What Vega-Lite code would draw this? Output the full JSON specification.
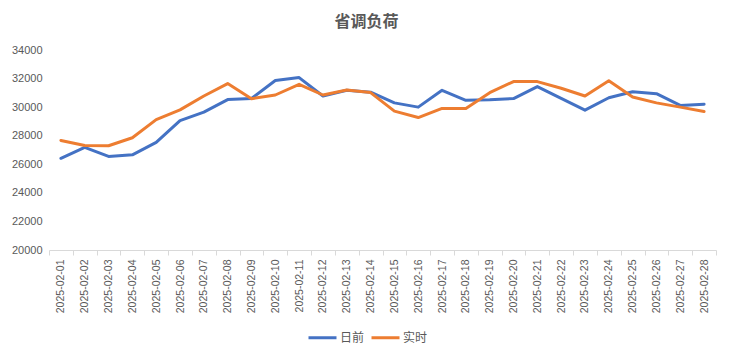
{
  "$schema": "https://vega.github.io/schema/vega-lite/v6.json",
  "autosize": "none",
  "width": 667,
  "height": 200,
  "padding": {"left": 49, "top": 50, "right": 16, "bottom": 106},
  "background": "white",
  "title": {
    "text": "省调负荷",
    "font": "Noto Sans CJK SC",
    "fontSize": 16,
    "fontWeight": "bold",
    "color": "#595959",
    "anchor": "middle",
    "dx": -16,
    "offset": 14
  },
  "datasets": {
    "load": [
      {"date": "2025-02-01", "series": "日前", "value": 26420},
      {"date": "2025-02-02", "series": "日前", "value": 27180},
      {"date": "2025-02-03", "series": "日前", "value": 26550},
      {"date": "2025-02-04", "series": "日前", "value": 26660},
      {"date": "2025-02-05", "series": "日前", "value": 27530},
      {"date": "2025-02-06", "series": "日前", "value": 29060},
      {"date": "2025-02-07", "series": "日前", "value": 29650},
      {"date": "2025-02-08", "series": "日前", "value": 30530},
      {"date": "2025-02-09", "series": "日前", "value": 30610},
      {"date": "2025-02-10", "series": "日前", "value": 31860},
      {"date": "2025-02-11", "series": "日前", "value": 32070},
      {"date": "2025-02-12", "series": "日前", "value": 30780},
      {"date": "2025-02-13", "series": "日前", "value": 31180},
      {"date": "2025-02-14", "series": "日前", "value": 31050},
      {"date": "2025-02-15", "series": "日前", "value": 30300},
      {"date": "2025-02-16", "series": "日前", "value": 30000},
      {"date": "2025-02-17", "series": "日前", "value": 31180},
      {"date": "2025-02-18", "series": "日前", "value": 30480},
      {"date": "2025-02-19", "series": "日前", "value": 30520},
      {"date": "2025-02-20", "series": "日前", "value": 30600},
      {"date": "2025-02-21", "series": "日前", "value": 31440},
      {"date": "2025-02-22", "series": "日前", "value": 30620},
      {"date": "2025-02-23", "series": "日前", "value": 29790},
      {"date": "2025-02-24", "series": "日前", "value": 30660},
      {"date": "2025-02-25", "series": "日前", "value": 31080},
      {"date": "2025-02-26", "series": "日前", "value": 30940},
      {"date": "2025-02-27", "series": "日前", "value": 30120},
      {"date": "2025-02-28", "series": "日前", "value": 30210},
      {"date": "2025-02-01", "series": "实时", "value": 27670},
      {"date": "2025-02-02", "series": "实时", "value": 27320},
      {"date": "2025-02-03", "series": "实时", "value": 27300},
      {"date": "2025-02-04", "series": "实时", "value": 27860},
      {"date": "2025-02-05", "series": "实时", "value": 29130},
      {"date": "2025-02-06", "series": "实时", "value": 29810},
      {"date": "2025-02-07", "series": "实时", "value": 30780},
      {"date": "2025-02-08", "series": "实时", "value": 31650},
      {"date": "2025-02-09", "series": "实时", "value": 30590},
      {"date": "2025-02-10", "series": "实时", "value": 30850},
      {"date": "2025-02-11", "series": "实时", "value": 31600},
      {"date": "2025-02-12", "series": "实时", "value": 30850},
      {"date": "2025-02-13", "series": "实时", "value": 31200},
      {"date": "2025-02-14", "series": "实时", "value": 31020},
      {"date": "2025-02-15", "series": "实时", "value": 29720},
      {"date": "2025-02-16", "series": "实时", "value": 29270},
      {"date": "2025-02-17", "series": "实时", "value": 29910},
      {"date": "2025-02-18", "series": "实时", "value": 29910},
      {"date": "2025-02-19", "series": "实时", "value": 31010},
      {"date": "2025-02-20", "series": "实时", "value": 31790},
      {"date": "2025-02-21", "series": "实时", "value": 31790},
      {"date": "2025-02-22", "series": "实时", "value": 31320},
      {"date": "2025-02-23", "series": "实时", "value": 30780},
      {"date": "2025-02-24", "series": "实时", "value": 31840},
      {"date": "2025-02-25", "series": "实时", "value": 30710},
      {"date": "2025-02-26", "series": "实时", "value": 30300},
      {"date": "2025-02-27", "series": "实时", "value": 30000},
      {"date": "2025-02-28", "series": "实时", "value": 29690}
    ]
  },
  "data": {"name": "load"},
  "mark": {"type": "line", "strokeWidth": 3, "strokeCap": "round", "strokeJoin": "round"},
  "encoding": {
    "x": {
      "field": "date",
      "type": "ordinal",
      "bandPosition": 0.5,
      "scale": {"type": "band", "paddingInner": 0, "paddingOuter": 0},
      "axis": {
        "title": null,
        "labelAngle": -90,
        "labelFont": "Liberation Sans",
        "labelFontSize": 10.5,
        "labelColor": "#595959",
        "labelPadding": 4,
        "tickBand": "extent",
        "tickColor": "#d9d9d9",
        "tickSize": 5,
        "domainColor": "#d9d9d9",
        "grid": false
      }
    },
    "y": {
      "field": "value",
      "type": "quantitative",
      "scale": {"domain": [20000, 34000], "nice": false, "zero": false},
      "axis": {
        "title": null,
        "values": [20000, 22000, 24000, 26000, 28000, 30000, 32000, 34000],
        "format": "d",
        "labelFont": "Liberation Sans",
        "labelFontSize": 11,
        "labelColor": "#595959",
        "labelPadding": 7,
        "ticks": false,
        "domain": false,
        "grid": false
      }
    },
    "color": {
      "field": "series",
      "type": "nominal",
      "scale": {"domain": ["日前", "实时"], "range": ["#4472C4", "#ED7D31"]},
      "legend": {
        "title": null,
        "orient": "none",
        "legendX": 258,
        "legendY": 272,
        "direction": "horizontal",
        "symbolType": "stroke",
        "symbolSize": 784,
        "symbolStrokeWidth": 3,
        "labelFont": "Noto Sans CJK SC",
        "labelFontSize": 12,
        "labelColor": "#595959",
        "columnPadding": 0,
        "labelOffset": 2
      }
    }
  },
  "config": {"view": {"stroke": null}}
}
